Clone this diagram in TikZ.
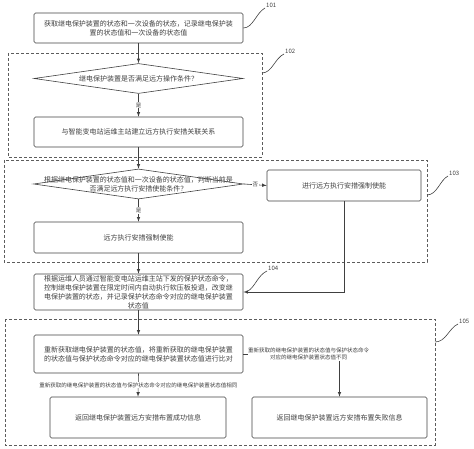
\documentclass[tikz,border=0pt]{standalone}
\usepackage{fontspec}
\newfontfamily\cjk{Noto Sans CJK SC}
\usepackage{tikz}
\usetikzlibrary{shapes.geometric}
\definecolor{ink}{gray}{0.25}
\tikzset{
  blk/.style={draw=ink, rounded corners=1.5pt, line width=0.6pt, align=center, inner sep=1pt, text=ink, font=\cjk\fontsize{7}{9}\selectfont},
  dia/.style={draw=ink, diamond, line width=0.6pt, inner sep=0pt, aspect=7},
  dtxt/.style={align=center, inner sep=0pt, text=ink, font=\cjk\fontsize{7}{9}\selectfont},
  grp/.style={draw=ink!85, dash pattern=on 3pt off 2pt, line width=0.8pt},
  lbl/.style={fill=white, inner sep=0.6pt, align=center, text=ink, font=\cjk\fontsize{5.5}{7}\selectfont},
  num/.style={text=ink, inner sep=0pt, font=\cjk\fontsize{6}{7}\selectfont},
}

\begin{document}
\begin{tikzpicture}[x=1pt,y=-1pt,>=latex]
	\useasboundingbox (0,0) rectangle (474,449);
	% dashed groups
	\draw[grp] (8,53) rectangle (262,157);
	\draw[grp] (4,160) rectangle (427,262);
	\draw[grp] (5,319) rectangle (435,445);
	% boxes
	\node[blk,minimum width=209pt,minimum height=30pt] (s101) at (138.5,28) {获取继电保护装置的状态和一次设备的状态，记录继电保护装\\置的状态值和一次设备的状态值};
	\node[dia,minimum width=209pt,minimum height=30pt] (d1) at (138.5,78.5) {};
	\node[dtxt] (d1t) at (d1) {继电保护装置是否满足远方操作条件？};
	\node[blk,minimum width=209pt,minimum height=30pt] (s102) at (138.5,132) {与智能变电站运维主站建立远方执行安措关联关系};
	\node[dia,minimum width=210pt,minimum height=30pt] (d2) at (138.5,184) {};
	\node[dtxt] (d2t) at (d2) {根据继电保护装置的状态值和一次设备的状态值，判断当前是\\否满足远方执行安措使能条件？};
	\node[blk,minimum width=154pt,minimum height=31pt] (sR) at (344,185.5) {进行远方执行安措强制使能};
	\node[blk,minimum width=209pt,minimum height=31pt] (s103) at (138.5,237.5) {远方执行安措强制使能};
	\node[blk,minimum width=209pt,minimum height=36pt] (s104) at (138.5,292) {根据运维人员通过智能变电站运维主站下发的保护状态命令，\\控制继电保护装置在限定时间内自动执行软压板投退，改变继\\电保护装置的状态，并记录保护状态命令对应的继电保护装置\\状态值};
	\node[blk,minimum width=209pt,minimum height=38pt] (s105) at (138.5,354) {重新获取继电保护装置的状态值，将重新获取的继电保护装置\\的状态值与保护状态命令对应的继电保护装置状态值进行比对};
	\node[blk,minimum width=176pt,minimum height=41pt] (sOK) at (138,417.5) {返回继电保护装置远方安措布置成功信息};
	\node[blk,minimum width=175pt,minimum height=41pt] (sNG) at (339.5,417.5) {返回继电保护装置远方安措布置失败信息};
	% connectors
	\begin{scope}[draw=ink, line width=0.6pt]
	\draw[->] (s101.south) -- (d1.north);
	\draw[->] (d1.south) -- node[lbl] (y1) {是} (s102.north);
	\draw[->] (s102.south) -- (d2.north);
	\draw[->] (d2.east) -- node[lbl] (n2) {否} (sR.west);
	\draw[->] (d2.south) -- node[lbl] (y2) {是} (s103.north);
	\draw[->] (s103.south) -- (s104.north);
	\draw[->] (sR.south) |- (s104.east);
	\draw[->] (s104.south) -- (s105.north);
	\draw[->] (s105.south) -- node[lbl] (same) {重新获取的继电保护装置的状态值与保护状态命令对应的继电保护装置状态值相同} (sOK.north);
	\draw[->] (s105.east) -| (sNG.north);
	\node[lbl,anchor=west] (diff) at ([xshift=4pt]s105.east) {重新获取的继电保护装置的状态值与保护状态命令\\对应的继电保护装置状态值不同};
	\end{scope}
	% reference numerals
	\coordinate (c101) at (265,8);
	\coordinate (c102) at (284,54);
	\coordinate (c103) at (448,176);
	\coordinate (c104) at (267,271);
	\coordinate (c105) at (458,324);
	\draw[ink,line width=0.6pt] (s101.east) .. controls (253,28) and (256,13) .. (c101);
	\draw[ink,line width=0.6pt] (262,73) .. controls (272,73) and (275,58) .. (c102);
	\draw[ink,line width=0.6pt] (427,195) .. controls (437,195) and (440,180) .. (c103);
	\draw[ink,line width=0.6pt] (248,291) .. controls (255,287) and (258,275) .. (c104);
	\draw[ink,line width=0.6pt] (435,342) .. controls (446,342) and (449,328) .. (c105);
	\node[num,anchor=south west] (l101) at ([xshift=1pt]c101) {101};
	\node[num,anchor=south west] (l102) at ([xshift=1pt]c102) {102};
	\node[num,anchor=south west] (l103) at ([xshift=1pt]c103) {103};
	\node[num,anchor=south west] (l104) at ([xshift=1pt]c104) {104};
	\node[num,anchor=south west] (l105) at ([xshift=1pt]c105) {105};
\end{tikzpicture}
\end{document}
